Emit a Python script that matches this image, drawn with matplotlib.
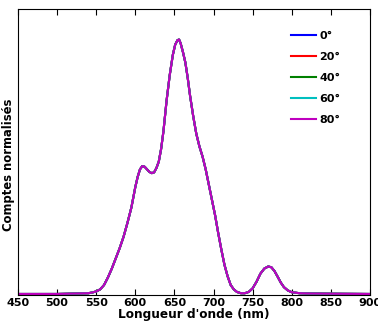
import matplotlib
matplotlib.use("Agg")
import matplotlib.pyplot as plt

wavelength = [450, 500, 540, 545, 550, 555, 560, 565, 570, 575, 580, 585, 590, 595,
              600, 603, 606, 609, 612, 615, 618, 621, 624, 627, 630, 633, 636, 640,
              644, 648, 651, 654, 656, 658, 661, 664, 667, 670, 674, 678, 682, 686,
              690, 694, 698, 702, 706, 710, 714, 718, 722, 726, 730, 735, 740, 745,
              750, 755, 760, 765, 770, 774, 778, 782, 786, 790, 795, 800, 810, 820,
              850, 900]
counts = [0.0, 0.0, 0.003, 0.006, 0.01, 0.018, 0.035, 0.065, 0.10, 0.14, 0.18, 0.225,
          0.28, 0.34, 0.42, 0.46, 0.49, 0.503, 0.50, 0.49, 0.48, 0.475, 0.478, 0.495,
          0.52, 0.57, 0.64, 0.76, 0.86, 0.94, 0.98, 0.998, 1.0, 0.985, 0.95, 0.91,
          0.85, 0.78, 0.70, 0.63, 0.58, 0.54, 0.49, 0.43, 0.37, 0.31, 0.24, 0.175,
          0.115, 0.07, 0.035, 0.018, 0.008, 0.003, 0.003, 0.008, 0.022, 0.048, 0.08,
          0.10, 0.108, 0.105, 0.09, 0.068, 0.045, 0.027, 0.014, 0.007, 0.003, 0.002,
          0.001, 0.0]
angles = ["0°", "20°", "40°", "60°", "80°"]
colors = ["#0000ff", "#ff0000", "#008000", "#00bfbf", "#bf00bf"]
xticks = [450, 500, 550, 600, 650, 700, 750, 800, 850, 900]

fig = plt.figure(figsize=(3.78, 3.24), dpi=100)
ax = fig.add_axes([0.0476, 0.0895, 0.931, 0.8825])
for lab, col in zip(angles, colors):
    ax.plot(wavelength, counts, color=col, lw=1.5, label=lab)
ax.set_xlim(450, 900)
ax.set_ylim(-0.004, 1.12)
ax.set_xticks(xticks)
ax.set_xticklabels([str(t) for t in xticks], fontsize=8, fontweight="bold")
ax.set_yticks([])
ax.tick_params(axis="x", direction="in", top=True, length=4, pad=2)
ax.set_xlabel("Longueur d'onde (nm)", fontsize=8.7, fontweight="bold", labelpad=0)
ax.set_ylabel("Comptes normalisés", fontsize=8.4, fontweight="bold")
ax.yaxis.set_label_coords(-0.009, 0.455)
leg = ax.legend(loc="upper right", frameon=False, prop={"size": 8, "weight": "bold"},
                handlelength=2.3, labelspacing=1.0, handletextpad=0.3,
                bbox_to_anchor=(0.945, 0.96))
fig.savefig("out.png", dpi=100)
